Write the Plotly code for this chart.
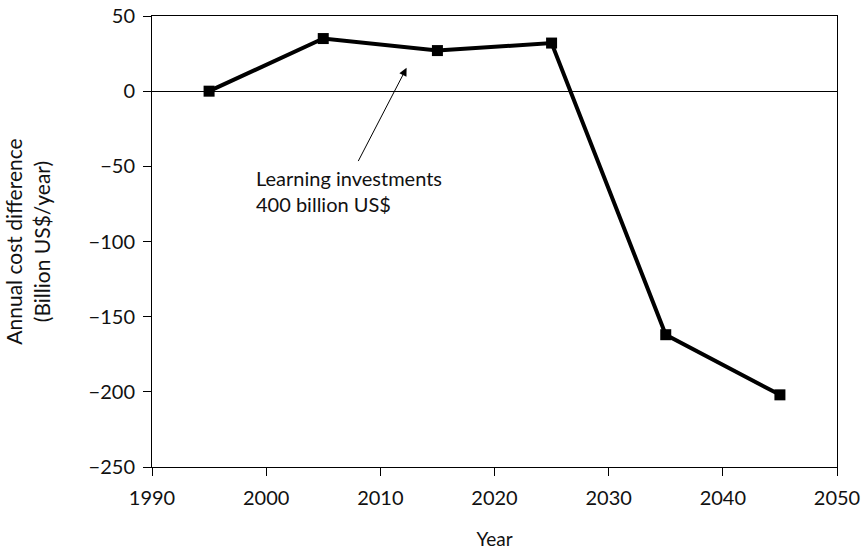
import plotly.graph_objects as go

years = [1995, 2005, 2015, 2025, 2035, 2045]
cost_diff = [0, 35, 27, 32, -162, -202]

x_ticks = [1990, 2000, 2010, 2020, 2030, 2040, 2050]
y_ticks = [50, 0, -50, -100, -150, -200, -250]
y_tick_labels = ["50", "0", "\u221250", "\u2212100", "\u2212150", "\u2212200", "\u2212250"]

note_text = "Learning investments<br>400 billion US$"
arrow_tip = (2012.3, 15.5)
arrow_tail = (2008.0, -47.5)
note_pos = (1998.9, -48.5)

FONT = "Lato, 'Open Sans', sans-serif"

fig = go.Figure()
fig.add_trace(go.Scatter(
    x=years, y=cost_diff, mode="lines+markers",
    line=dict(color="black", width=4),
    marker=dict(symbol="square", size=11, color="black"),
    showlegend=False,
))

fig.add_annotation(
    x=arrow_tip[0], y=arrow_tip[1], ax=arrow_tail[0], ay=arrow_tail[1],
    xref="x", yref="y", axref="x", ayref="y",
    text="", showarrow=True, arrowhead=2, arrowsize=1.6, arrowwidth=1,
    arrowcolor="black",
)
fig.add_annotation(
    x=note_pos[0], y=note_pos[1], xref="x", yref="y", text=note_text, showarrow=False,
    xanchor="left", yanchor="top", align="left",
    font=dict(family=FONT, size=20, color="#111"),
)

fig.update_layout(
    width=864, height=551,
    margin=dict(l=152, r=27, t=16, b=84),
    paper_bgcolor="white", plot_bgcolor="white",
    font=dict(family=FONT, size=20, color="#111"),
    xaxis=dict(
        range=[1990, 2050], tickvals=x_ticks, ticks="outside", ticklen=8,
        tickcolor="black", showline=True, linecolor="black", linewidth=1,
        mirror=True, showgrid=False, zeroline=False, automargin=False,
        tickfont=dict(size=20), ticklabelstandoff=5,
        title=dict(text="Year", standoff=24, font=dict(size=19)),
    ),
    yaxis=dict(
        range=[-250, 50], tickvals=y_ticks, ticktext=y_tick_labels,
        ticks="outside", ticklen=8, tickcolor="black",
        showline=True, linecolor="black", linewidth=1, mirror=True,
        showgrid=False, zeroline=True, zerolinecolor="black", zerolinewidth=1,
        automargin=False, tickfont=dict(size=20), ticklabelstandoff=4,
        title=dict(text="Annual cost difference<br>(Billion US$/year)", standoff=32,
                   font=dict(size=21)),
    ),
)

fig.write_html("out.html", config={"displayModeBar": False},
               post_script="document.body.style.margin='0';")
